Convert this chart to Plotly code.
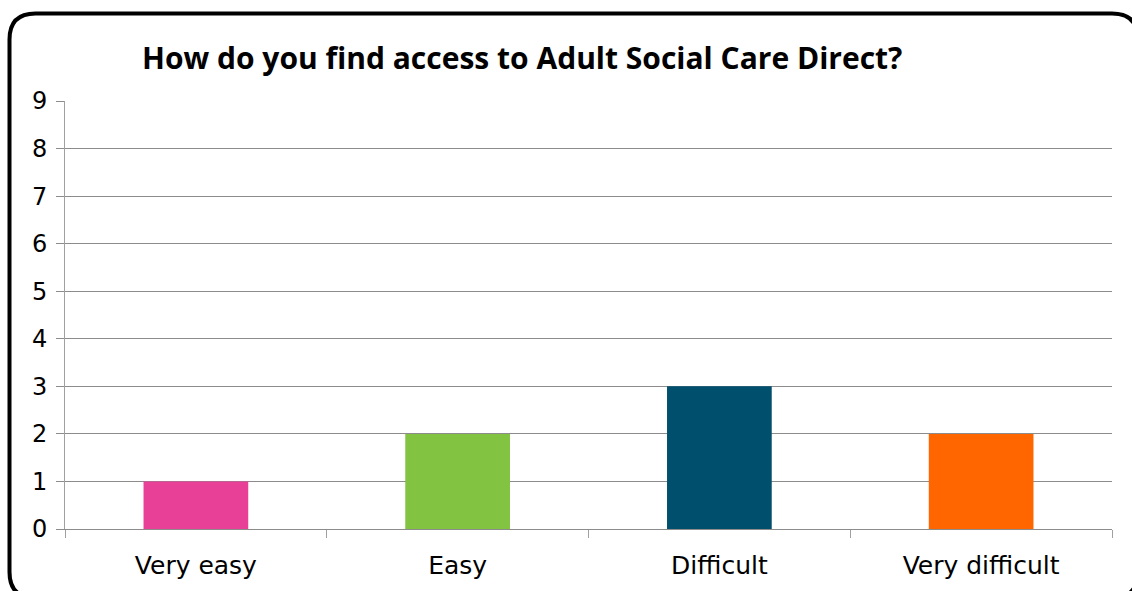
import plotly.graph_objects as go

categories = ["Very easy", "Easy", "Difficult", "Very difficult"]
values = [1, 2, 3, 2]
colors = ["#E84097", "#82C341", "#004F6C", "#FF6600"]
title_text = "How do you find access to Adult Social Care Direct?"

W, H = 1132, 591
ML, MR, MT, MB = 65, 20, 101, 62
PW = W - ML - MR
PH = H - MT - MB

def px(x):
    return (x - ML) / PW

def py(y):
    return (H - MB - y) / PH

fig = go.Figure(go.Bar(
    x=categories, y=values, marker=dict(color=colors, line=dict(width=0)),
    width=0.4,
))

# rounded border
l, r, t, b, rad = 9.5, 1138, 13.5, 598, 26
path = (
    f"M {px(l+rad)},{py(t)} L {px(r-rad)},{py(t)} "
    f"Q {px(r)},{py(t)} {px(r)},{py(t+rad)} "
    f"L {px(r)},{py(b-rad)} Q {px(r)},{py(b)} {px(r-rad)},{py(b)} "
    f"L {px(l+rad)},{py(b)} Q {px(l)},{py(b)} {px(l)},{py(b-rad)} "
    f"L {px(l)},{py(t+rad)} Q {px(l)},{py(t)} {px(l+rad)},{py(t)} Z"
)
fig.add_shape(type="path", path=path, xref="paper", yref="paper",
              line=dict(color="black", width=4), layer="above")

fig.add_annotation(text=f"<b>{title_text}</b>", xref="paper", yref="paper",
                   x=px(522), y=py(57), showarrow=False,
                   font=dict(family="Open Sans", size=30, color="black"),
                   xanchor="center", yanchor="middle")

fig.update_layout(
    width=W, height=H,
    margin=dict(l=ML, r=MR, t=MT, b=MB),
    paper_bgcolor="white", plot_bgcolor="white",
    font=dict(family="DejaVu Sans", size=24, color="black"),
    showlegend=False,
)
fig.update_yaxes(range=[0, 9], dtick=1, showgrid=True, gridcolor="#8c8c8c", gridwidth=1,
                 ticks="outside", ticklen=8, tickcolor="#8c8c8c",
                 showline=True, linecolor="#a0a0a0", linewidth=1,
                 zeroline=False, tickfont=dict(size=24), ticklabelstandoff=4)
fig.update_xaxes(tickson="boundaries", ticks="outside", ticklen=8, tickcolor="#a0a0a0",
                 showline=True, linecolor="#8c8c8c", linewidth=1,
                 tickfont=dict(size=25), ticklabelstandoff=14)

fig.write_html("out.html", config={"displayModeBar": False},
               post_script="document.body.style.margin='0';document.body.style.overflow='hidden';")
